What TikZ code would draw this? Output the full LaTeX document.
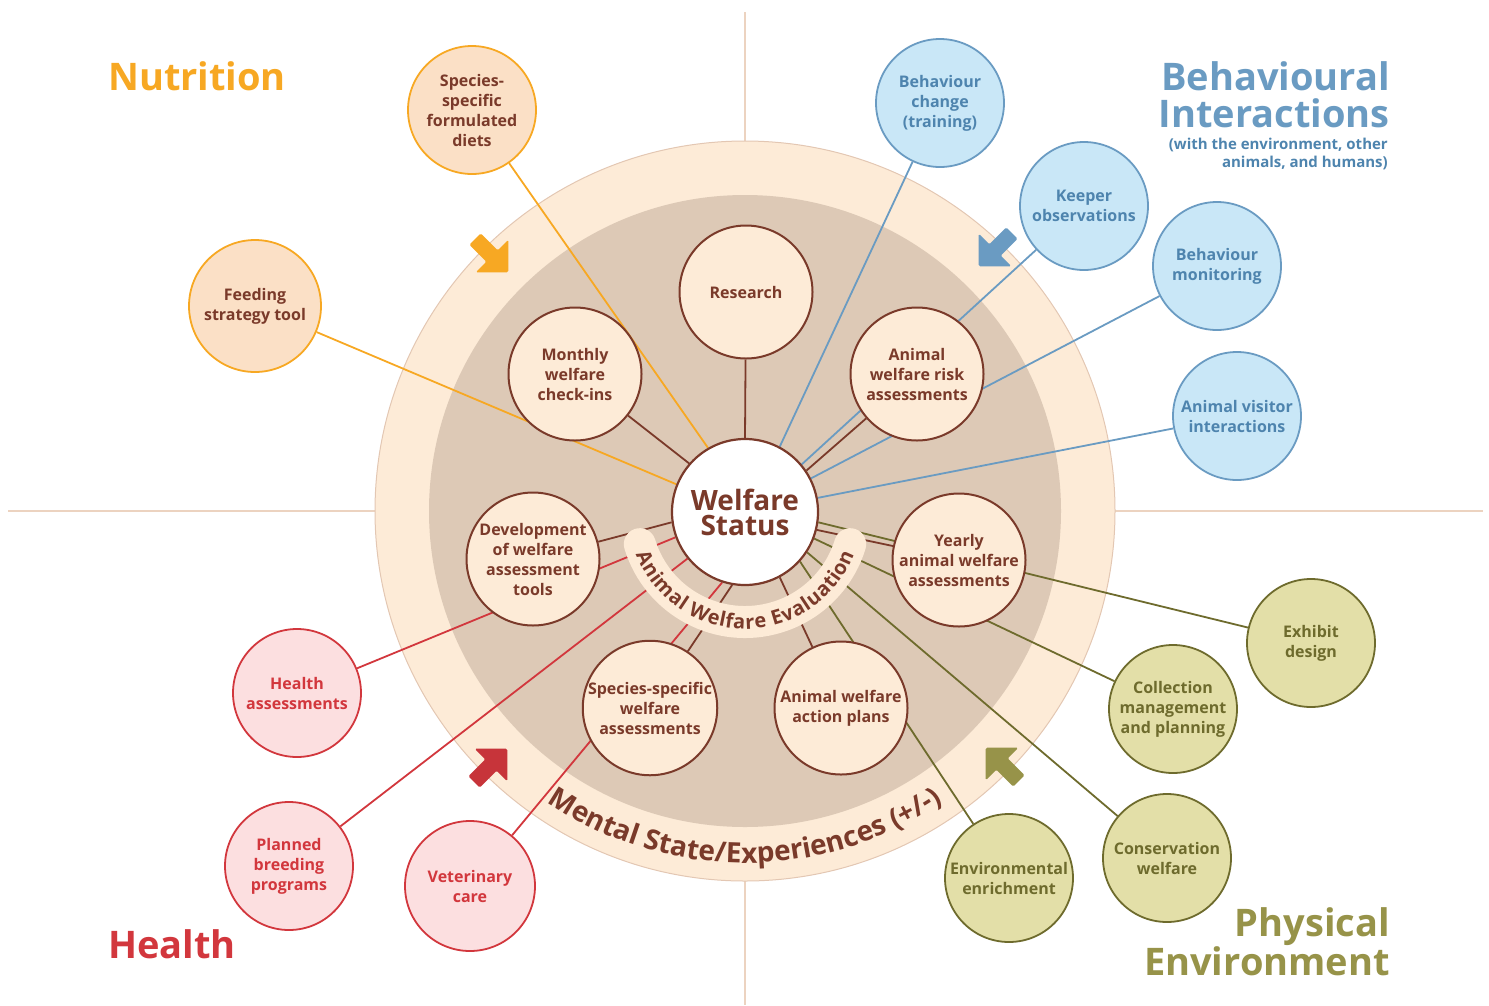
\documentclass[tikz,border=0pt]{standalone}
\usepackage{fontspec}
\setmainfont{Open Sans}
\usetikzlibrary{decorations.text}

\definecolor{brn}{HTML}{7A3A2A}
\definecolor{cream}{HTML}{FDEBD7}
\definecolor{tan}{HTML}{DDC9B6}
\definecolor{rim}{HTML}{E3C7B3}
\definecolor{cross}{HTML}{ECD3C0}
\definecolor{nutcol}{HTML}{F7A823}
\definecolor{nutfill}{HTML}{FBE0C6}
\definecolor{behcol}{HTML}{6A9BC2}
\definecolor{behtext}{HTML}{4E84AE}
\definecolor{behfill}{HTML}{C9E7F7}
\definecolor{phycol}{HTML}{6E6B2D}
\definecolor{phytitle}{HTML}{979349}
\definecolor{phyfill}{HTML}{E3DFA8}
\definecolor{helcol}{HTML}{D2373D}
\definecolor{helfill}{HTML}{FCDFE0}

\pgfdeclarelayer{back}
\pgfdeclarelayer{links}
\pgfsetlayers{back,links,main}

\tikzset{
  bubble/.style={circle, line width=1.8pt, inner sep=0pt, minimum size=128pt, align=center,
    font=\fontsize{16}{20}\selectfont\bfseries},
  inner/.style={bubble, draw=brn, line width=2pt, fill=cream, text=brn, minimum size=133pt},
  nutri/.style={bubble, draw=nutcol, fill=nutfill, text=brn},
  behav/.style={bubble, draw=behcol, fill=behfill, text=behtext},
  phys/.style={bubble, draw=phycol, fill=phyfill, text=phycol},
  heal/.style={bubble, draw=helcol, fill=helfill, text=helcol},
  title/.style={inner sep=0pt, font=\fontsize{38}{37}\selectfont\bfseries},
  link/.style={line width=1.8pt},
}

% fat arrow: colour, x, y, direction
\newcommand{\quadarrow}[4]{\fill[#1, rounded corners=1.5pt, shift={(#2,-#3)}, rotate=#4]
  (23,0) -- (0,23) -- (0,8) -- (-24,8) -- (-24,-8) -- (0,-8) -- (0,-23) -- cycle;}

\begin{document}
\begin{tikzpicture}[x=1pt,y=1pt]
  \useasboundingbox (0,0) rectangle (1489,-1005);

  % background rings
  \begin{pgfonlayer}{back}
    \draw[cross, line width=1.5pt] (745,-12) -- (745,-1005);
    \draw[cross, line width=1.5pt] (8,-511) -- (1483,-511);
    \fill[cream] (745,-511) circle (370);
    \draw[rim, line width=1pt] (745,-511) circle (370);
    \fill[tan] (745,-511) circle (316);
  \end{pgfonlayer}

  % centre
  \node[circle, draw=brn, line width=2.2pt, fill=white, minimum size=146pt, inner sep=0pt,
    align=center, text=brn, font=\fontsize{28}{25}\selectfont\bfseries] (ws) at (745,-512) {Welfare\\Status};

  % inner ring
  \node[inner] (research) at (746,-292) {Research};
  \node[inner] (monthly) at (575,-374) {Monthly\\welfare\\check-ins};
  \node[inner] (risk) at (917,-374) {Animal\\welfare risk\\assessments};
  \node[inner] (devel) at (533,-559) {Development\\of welfare\\assessment\\tools};
  \node[inner] (yearly) at (959,-560) {Yearly\\animal welfare\\assessments};
  \node[inner] (specas) at (650,-708) {Species-specific\\welfare\\assessments};
  \node[inner] (action) at (841,-708) {Animal welfare\\action plans};

  % nutrition
  \node[nutri] (diets) at (472,-110) {Species-\\specific\\formulated\\diets};
  \node[nutri, minimum size=132pt] (feeding) at (255,-306) {Feeding\\strategy tool};

  % behaviour
  \node[behav] (change) at (940,-103) {Behaviour\\change\\(training)};
  \node[behav] (keeper) at (1084,-206) {Keeper\\observations};
  \node[behav] (monitor) at (1217,-266) {Behaviour\\monitoring};
  \node[behav] (visitor) at (1237,-416) {Animal visitor\\interactions};

  % physical environment
  \node[phys] (exhibit) at (1311,-643) {Exhibit\\design};
  \node[phys] (collect) at (1173,-709) {Collection\\management\\and planning};
  \node[phys] (conserv) at (1167,-858) {Conservation\\welfare};
  \node[phys] (enrich) at (1009,-878) {Environmental\\enrichment};

  % health
  \node[heal] (health) at (297,-693) {Health\\assessments};
  \node[heal] (breed) at (289,-866) {Planned\\breeding\\programs};
  \node[heal, minimum size=130pt] (vet) at (470,-886) {Veterinary\\care};

  % links to the centre
  \begin{pgfonlayer}{links}
    \draw[link, nutcol] (feeding) -- (ws.158);
    \draw[link, nutcol] (diets) -- (ws.120);
    \draw[link, behcol] (change) -- (ws.62);
    \draw[link, behcol] (keeper) -- (ws.40);
    \draw[link, behcol] (monitor) -- (ws.27);
    \draw[link, behcol] (visitor) -- (ws.11);
    \draw[link, phycol] (exhibit) -- (ws.-8);
    \draw[link, phycol] (collect) -- (ws.-21);
    \draw[link, phycol] (conserv) -- (ws.-33);
    \draw[link, phycol] (enrich) -- (ws.-42);
    \draw[link, helcol] (vet) -- (ws.-108);
    \draw[link, helcol] (breed) -- (ws.-141);
    \draw[link, helcol] (health) -- (ws.-160);
    \draw[link, brn] (research) -- (ws.90);
    \draw[link, brn] (monthly) -- (ws.139);
    \draw[link, brn] (risk) -- (ws.34);
    \draw[link, brn] (yearly) -- (ws.-14);
    \draw[link, brn] (action) -- (ws.-62);
    \draw[link, brn] (specas) -- (ws.-100);
    \draw[link, brn] (devel) -- (ws.-172);
  \end{pgfonlayer}

  % evaluation band
  \draw[cream, line width=32pt, line cap=round] (ws.center) ++(197:110) arc[start angle=197, end angle=343, radius=110];
  \path[decorate, decoration={text along path, text align=center, raise=-7pt, text color=brn,
    text={|\fontsize{20}{20}\selectfont\bfseries|Animal Welfare Evaluation}}]
    (ws.center) ++(197:110) arc[start angle=197, end angle=343, radius=110];
  \path[decorate, decoration={text along path, text align=center, text color=brn,
    text={|\fontsize{28}{28}\selectfont\bfseries|Mental State/Experiences (+/-)}}]
    (745,-511) ++(225:352) arc[start angle=225, end angle=315, radius=352];

  % arrows
  \quadarrow{nutcol}{492}{256}{-45}
  \quadarrow{behcol}{995}{250}{-135}
  \quadarrow{helcol!95!black}{491}{765}{45}
  \quadarrow{phytitle}{1002}{764}{135}

  % titles
  \node[title, nutcol, anchor=base west] (tnut) at (108,-90) {Nutrition};
  \node[title, behcol, anchor=base east, align=right] (tbeh) at (1390,-127) {Behavioural\\Interactions};
  \node[inner sep=0pt, behtext, anchor=base east, align=right, font=\fontsize{15}{18}\selectfont\bfseries]
    (tbehsub) at (1388,-167) {(with the environment, other\\animals, and humans)};
  \node[title, helcol, anchor=base west] (thel) at (108,-958) {Health};
  \node[title, phytitle, anchor=base east, align=right] (tphy) at (1390,-975) {Physical\\Environment};
\end{tikzpicture}
\end{document}
